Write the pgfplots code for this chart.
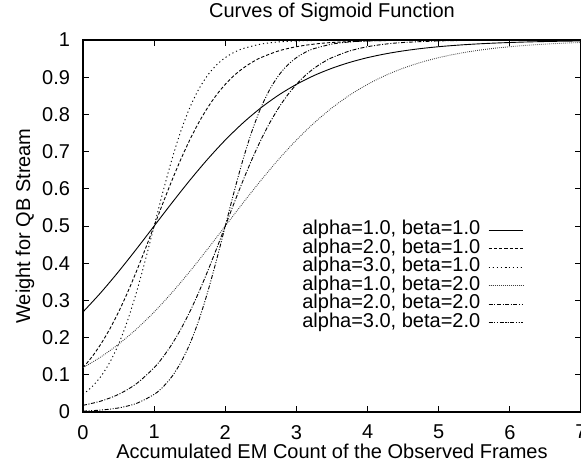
\documentclass[border=0pt]{standalone}
\usepackage{fontspec}
\setmainfont{Liberation Sans}
\usepackage{pgfplots}
\pgfplotsset{compat=1.18}

\begin{document}
\begin{tikzpicture}
\begin{axis}[
  scale only axis,
  width=249pt, height=186pt,
  xmin=0, xmax=7, ymin=0, ymax=1,
  xtick={0,1,...,7},
  ytick={0,0.1,...,1},
  yticklabels={0,0.1,0.2,0.3,0.4,0.5,0.6,0.7,0.8,0.9,1},
  /pgf/number format/assume math mode=true,
  tick label style={font=\fontsize{10}{12}\selectfont},
  xticklabel style={yshift=-3pt},
  yticklabel style={xshift=-3pt},
  major tick length=3pt,
  tick style={black, line width=0.4pt},
  axis line style={line width=0.6pt},
  title={Curves of Sigmoid Function},
  xlabel={Accumulated EM Count of the Observed Frames},
  ylabel={Weight for QB Stream},
  every axis title/.style={at={(axis description cs:0.5,1)}, yshift=14pt, anchor=center, font=\fontsize{10}{12}\selectfont},
  every axis x label/.style={at={(axis description cs:0.5,0)}, yshift=-19.5pt, anchor=center, font=\fontsize{10}{12}\selectfont},
  every axis y label/.style={at={(axis description cs:0,0.5)}, xshift=-29pt, rotate=90, anchor=center, font=\fontsize{10}{12}\selectfont},
  legend cell align=right,
  legend plot pos=right,
  legend style={at={(rel axis cs:0.885,0.515)}, anchor=north east, draw=none, fill=none,
    inner sep=0pt, font=\fontsize{10}{12}\selectfont, column sep=2pt,
    nodes={inner ysep=0pt, inner xsep=2pt, text height=7pt, text depth=2.25pt}},
  every axis plot/.append style={line width=0.45pt, black},
]
% alpha=1, beta=1
\addplot[solid, smooth] coordinates {
(0,0.2689)(0.25,0.3208)(0.5,0.3775)(0.75,0.4378)(1,0.5)(1.25,0.5622)(1.5,0.6225)(1.75,0.6792)
(2,0.7311)(2.25,0.7773)(2.5,0.8176)(2.75,0.8520)(3,0.8808)(3.25,0.9047)(3.5,0.9241)(3.75,0.9399)
(4,0.9526)(4.25,0.9627)(4.5,0.9707)(4.75,0.9770)(5,0.9820)(5.25,0.9859)(5.5,0.9890)(5.75,0.9914)
(6,0.9933)(6.25,0.9948)(6.5,0.9959)(6.75,0.9968)(7,0.9975)};
\addlegendentry{alpha=1.0, beta=1.0}
% alpha=2, beta=1
\addplot[dash pattern=on 1.6pt off 1pt, smooth] coordinates {
(0,0.1192)(0.125,0.1480)(0.25,0.1824)(0.375,0.2227)(0.5,0.2689)(0.625,0.3208)(0.75,0.3775)(0.875,0.4378)
(1,0.5)(1.125,0.5622)(1.25,0.6225)(1.375,0.6792)(1.5,0.7311)(1.625,0.7773)(1.75,0.8176)(1.875,0.8520)
(2,0.8808)(2.125,0.9047)(2.25,0.9241)(2.375,0.9399)(2.5,0.9526)(2.75,0.9707)(3,0.9820)(3.25,0.9890)
(3.5,0.9933)(4,0.9975)(4.5,0.9991)(5,0.9997)(6,1.0)(7,1.0)};
\addlegendentry{alpha=2.0, beta=1.0}
% alpha=3, beta=1
\addplot[dash pattern=on 0.6pt off 1.4pt, smooth] coordinates {
(0,0.0474)(0.125,0.0675)(0.25,0.0953)(0.375,0.1330)(0.5,0.1824)(0.625,0.2451)(0.75,0.3208)(0.875,0.4073)
(1,0.5)(1.125,0.5927)(1.25,0.6792)(1.375,0.7549)(1.5,0.8176)(1.625,0.8670)(1.75,0.9047)(1.875,0.9325)
(2,0.9526)(2.125,0.9669)(2.25,0.9770)(2.5,0.9890)(2.75,0.9948)(3,0.9975)(3.5,0.9994)(4,0.9999)
(5,1.0)(7,1.0)};
\addlegendentry{alpha=3.0, beta=1.0}
% alpha=1, beta=2
\addplot[dash pattern=on 0.4pt off 0.6pt, black!75, smooth] coordinates {
(0,0.1192)(0.25,0.1480)(0.5,0.1824)(0.75,0.2227)(1,0.2689)(1.25,0.3208)(1.5,0.3775)(1.75,0.4378)
(2,0.5)(2.25,0.5622)(2.5,0.6225)(2.75,0.6792)(3,0.7311)(3.25,0.7773)(3.5,0.8176)(3.75,0.8520)
(4,0.8808)(4.25,0.9047)(4.5,0.9241)(4.75,0.9399)(5,0.9526)(5.25,0.9627)(5.5,0.9707)(5.75,0.9770)
(6,0.9820)(6.25,0.9859)(6.5,0.9890)(6.75,0.9914)(7,0.9933)};
\addlegendentry{alpha=1.0, beta=2.0}
% alpha=2, beta=2
\addplot[dash pattern=on 2pt off 0.8pt on 0.5pt off 0.8pt, smooth] coordinates {
(0,0.0180)(0.25,0.0293)(0.5,0.0474)(0.75,0.0759)(1,0.1192)(1.125,0.1480)(1.25,0.1824)(1.375,0.2227)
(1.5,0.2689)(1.625,0.3208)(1.75,0.3775)(1.875,0.4378)(2,0.5)(2.125,0.5622)(2.25,0.6225)(2.375,0.6792)
(2.5,0.7311)(2.625,0.7773)(2.75,0.8176)(2.875,0.8520)(3,0.8808)(3.125,0.9047)(3.25,0.9241)(3.375,0.9399)
(3.5,0.9526)(3.75,0.9707)(4,0.9820)(4.25,0.9890)(4.5,0.9933)(5,0.9975)(5.5,0.9991)(6,0.9997)(7,1.0)};
\addlegendentry{alpha=2.0, beta=2.0}
% alpha=3, beta=2
\addplot[dash pattern=on 2pt off 0.8pt on 0.5pt off 0.8pt on 0.5pt off 0.8pt, smooth] coordinates {
(0,0.0025)(0.25,0.0052)(0.5,0.0110)(0.75,0.0230)(1,0.0474)(1.125,0.0675)(1.25,0.0953)(1.375,0.1330)
(1.5,0.1824)(1.625,0.2451)(1.75,0.3208)(1.875,0.4073)(2,0.5)(2.125,0.5927)(2.25,0.6792)(2.375,0.7549)
(2.5,0.8176)(2.625,0.8670)(2.75,0.9047)(2.875,0.9325)(3,0.9526)(3.125,0.9669)(3.25,0.9770)(3.5,0.9890)
(3.75,0.9948)(4,0.9975)(4.5,0.9994)(5,0.9999)(6,1.0)(7,1.0)};
\addlegendentry{alpha=3.0, beta=2.0}
\end{axis}
\pgfresetboundingbox
\path[use as bounding box] ([shift={(-41.5pt,-24.5pt)}]current axis.south west) rectangle ([shift={(0pt,20pt)}]current axis.north east);
\end{tikzpicture}
\end{document}
